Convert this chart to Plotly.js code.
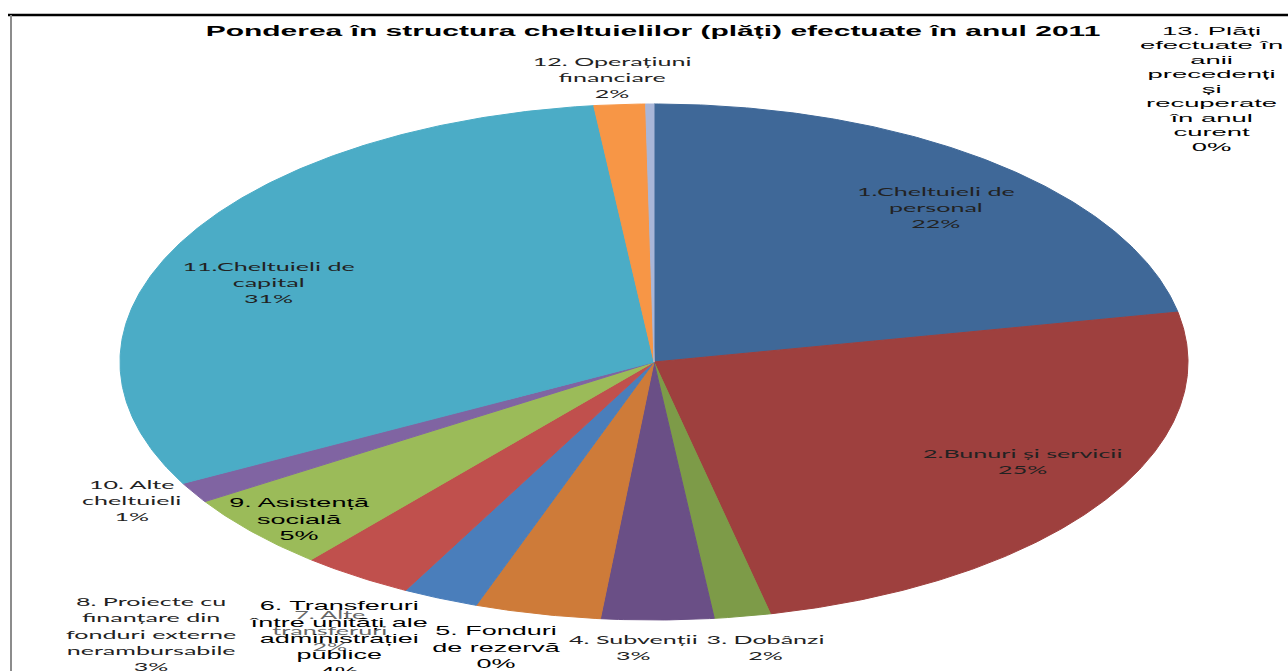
<!DOCTYPE html>
<html>
<head>
<meta charset="utf-8">
<script src="https://cdn.plot.ly/plotly-3.0.1.min.js"></script>
<style>
html,body{margin:0;padding:0;background:#fff;}
#chart{width:1288px;height:671px;}
</style>
</head>
<body>
<div id="chart"></div>
<script>
// ---------------- DATA ----------------
const chartTitle = "Ponderea în structura cheltuielilor (plăți) efectuate în anul 2011";

const categories = [
  "1.Cheltuieli de personal",
  "2.Bunuri și servicii",
  "3. Dobânzi",
  "4. Subvenții",
  "5. Fonduri de rezervă",
  "6. Transferuri între unități ale administrației publice",
  "7. Alte transferuri",
  "8. Proiecte cu finanțare din fonduri externe nerambursabile",
  "9. Asistență socială",
  "10. Alte cheltuieli",
  "11.Cheltuieli de capital",
  "12. Operațiuni financiare",
  "13. Plăți efectuate în anii precedenți și recuperate în anul curent"
];

// label text as wrapped in the chart
const labelLines = [
  "1.Cheltuieli de<br>personal",
  "2.Bunuri și servicii",
  "3. Dobânzi",
  "4. Subvenții",
  "5. Fonduri<br>de rezervă",
  "6. Transferuri<br>între unități ale<br>administrației<br>publice",
  "7. Alte<br>transferuri",
  "8. Proiecte cu<br>finanțare din<br>fonduri externe<br>nerambursabile",
  "9. Asistență<br>socială",
  "10. Alte<br>cheltuieli",
  "11.Cheltuieli de<br>capital",
  "12. Operațiuni<br>financiare",
  "13. Plăți<br>efectuate în<br>anii<br>precedenți<br>și<br>recuperate<br>în anul<br>curent"
];

// share of total payments, %
const shares = [21.9, 24.6, 1.7, 3.4, 0, 3.8, 2.3, 3.4, 4.8, 1.3, 31.0, 1.55, 0.25];

// ---------------- STYLE / LAYOUT ----------------
const colors = ["#3F6898","#9E403E","#7D9B48","#6A4F86","#3D95AC","#CE7B39",
                "#4A7EBB","#C0504D","#9BBB59","#8064A2","#4BACC6","#F79646","#A9B6D8"];

const W = 1288, H = 671;
const CX = 654, CY = 362, RX = 534, RY = 258;   // pie ellipse in pixels

// label centres (pixels) and font groups
const labelPos = [[936,207],[1022,461],[765,647],[633,647],[496,647],[338,638],[330,630],
                  [151,634],[299,519],[131,500],[268,282],[612,77],[1211,89]];
const labelGroup = ['c','c','c','c','a','a','c','c','a','c','c','c','a'];
const labelColor = ['#222','#222','#222','#222','#000','#000','#666','#222','#000','#222','#222','#222','#000'];
const labelScaleOverride = {12: [1.96, 0.8]};
const drawOrder = [0,1,2,3,4,6,5,7,8,9,10,11,12];

const groupFont = {
  c: {family: "Lato, 'Open Sans', sans-serif", size: 13},
  a: {family: "'Liberation Sans', Arial, sans-serif", size: 14}
};
const groupScale = { c: [1.93, 0.95], a: [1.93, 0.9] };
const titleScale = [2.0, 0.95];

// ---------------- BUILD ----------------
const total = shares.reduce((a,b)=>a+b,0);
const traces = [];
let cum = 0;
shares.forEach((v,i)=>{
  const a0 = cum/total*2*Math.PI;
  cum += v;
  const a1 = cum/total*2*Math.PI;
  const xs = [], ys = [];
  if (v > 0) {
    const n = Math.max(2, Math.ceil((a1-a0)/(2*Math.PI)*720));
    xs.push(0); ys.push(0);
    for (let k=0;k<=n;k++){
      const th = a0 + (a1-a0)*k/n;       // clockwise from 12 o'clock
      xs.push(Math.sin(th)); ys.push(Math.cos(th));
    }
    xs.push(0); ys.push(0);
  }
  traces.push({
    type:'scatter', mode:'lines', x:xs, y:ys, name:categories[i],
    fill:'toself', fillcolor:colors[i],
    line:{color:colors[i], width:1},
    hoverinfo:'skip', showlegend:false
  });
});

const annotations = [];
const annScale = [];
drawOrder.forEach(i=>{
  const pct = Math.round(shares[i]/total*100) + '%';
  const g = labelGroup[i];
  annotations.push({
    xref:'paper', yref:'paper',
    x: labelPos[i][0]/W, y: 1 - labelPos[i][1]/H,
    xanchor:'center', yanchor:'middle', align:'center',
    showarrow:false,
    text: labelLines[i] + '<br>' + pct,
    font: {family: groupFont[g].family, size: groupFont[g].size, color: labelColor[i]}
  });
  annScale.push(labelScaleOverride[i] || groupScale[g]);
});

const layout = {
  width: W, height: H,
  margin: {l:0, r:0, t:0, b:0, pad:0},
  paper_bgcolor:'#ffffff', plot_bgcolor:'rgba(0,0,0,0)',
  showlegend:false,
  hovermode:false,
  title: {
    text: '<b>' + chartTitle + '</b>',
    font: {family:"'Liberation Sans', Arial, sans-serif", size:15, color:'#000'},
    xref:'container', yref:'container',
    x: 653/W, y: 1 - 31/H, xanchor:'center', yanchor:'middle'
  },
  xaxis: {range:[-CX/RX, (W-CX)/RX], visible:false, fixedrange:true, domain:[0,1]},
  yaxis: {range:[(CY-H)/RY, CY/RY], visible:false, fixedrange:true, domain:[0,1]},
  annotations: annotations,
  shapes: [
    {type:'line', xref:'paper', yref:'paper', x0:8/W, x1:1, y0:1-15/H, y1:1-15/H,
     line:{color:'#000', width:2.5}},
    {type:'line', xref:'paper', yref:'paper', x0:11/W, x1:11/W, y0:1-15/H, y1:0,
     line:{color:'#8c8c8c', width:2}}
  ]
};

const gd = document.getElementById('chart');
Plotly.newPlot(gd, traces, layout, {staticPlot:true, displayModeBar:false}).then(()=>{
  gd.querySelectorAll('g.annotation').forEach(g=>{
    const idx = +g.getAttribute('data-index');
    const t = g.querySelector('text.annotation-text');
    const sc = annScale[idx];
    if (t && sc) {
      t.style.transformBox = 'fill-box';
      t.style.transformOrigin = 'center';
      t.style.transform = 'scale(' + sc[0] + ',' + sc[1] + ')';
    }
  });
  const tt = gd.querySelector('text.gtitle');
  if (tt) {
    tt.style.transformBox = 'fill-box';
    tt.style.transformOrigin = 'center';
    tt.style.transform = 'scale(' + titleScale[0] + ',' + titleScale[1] + ')';
  }
});
</script>
</body>
</html>
